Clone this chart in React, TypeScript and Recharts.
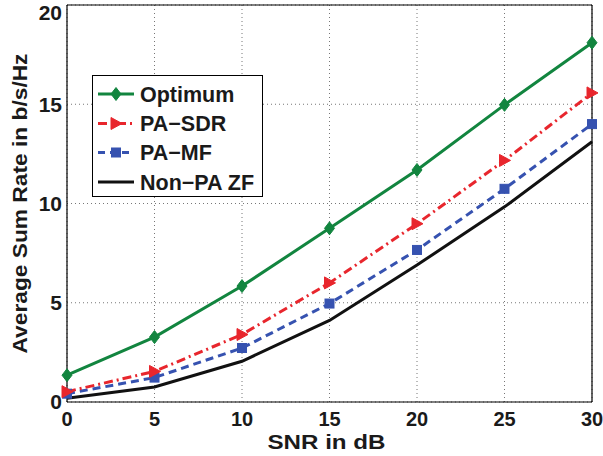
import React from "react";
import {
  LineChart,
  Line,
  XAxis,
  YAxis,
  CartesianGrid,
  Legend,
} from "recharts";

const snr = [0, 5, 10, 15, 20, 25, 30];
const optimum = [1.35, 3.27, 5.84, 8.75, 11.69, 14.97, 18.1];
const paSdr = [0.52, 1.54, 3.4, 6.0, 8.98, 12.17, 15.57];
const paMf = [0.42, 1.23, 2.72, 4.96, 7.66, 10.74, 14.0];
const nonPaZf = [0.19, 0.76, 2.05, 4.11, 6.9, 9.83, 13.11];
const xTicks = [0, 5, 10, 15, 20, 25, 30];
const yTicks = [0, 5, 10, 15, 20];
const seriesNames = ["Optimum", "PA\u2212SDR", "PA\u2212MF", "Non\u2212PA ZF"];

const data = snr.map((x, i) => ({
  x,
  optimum: optimum[i],
  paSdr: paSdr[i],
  paMf: paMf[i],
  nonPaZf: nonPaZf[i],
}));

const GREEN = "#12853f";
const RED = "#e8262d";
const BLUE = "#3652b0";
const BLACK = "#111111";
const FONT = "'Liberation Sans', Arial, Helvetica, sans-serif";

const Diamond = (props: any) => {
  const { cx, cy } = props;
  if (cx == null || cy == null) return <g />;
  return (
    <path
      d={`M${cx},${cy - 6.5} L${cx + 5},${cy} L${cx},${cy + 6.5} L${cx - 5},${cy} Z`}
      fill={GREEN}
      stroke={GREEN}
      strokeWidth={1}
    />
  );
};

const TriRight = (props: any) => {
  const { cx, cy } = props;
  if (cx == null || cy == null) return <g />;
  return (
    <path
      d={`M${cx + 6},${cy} L${cx - 5},${cy - 6} L${cx - 5},${cy + 6} Z`}
      fill={RED}
      stroke={RED}
      strokeWidth={1}
    />
  );
};

const Square = (props: any) => {
  const { cx, cy } = props;
  if (cx == null || cy == null) return <g />;
  return (
    <rect
      x={cx - 4.5}
      y={cy - 4.5}
      width={9}
      height={9}
      fill={BLUE}
      stroke={BLUE}
      strokeWidth={1}
    />
  );
};

const LegendBox = () => {
  const rows = [
    { color: GREEN, dash: undefined, marker: "diamond" },
    { color: RED, dash: "9 4 2 4", marker: "tri" },
    { color: BLUE, dash: "7 5", marker: "square" },
    { color: BLACK, dash: undefined, marker: "none" },
  ];
  const W = 171;
  const H = 122;
  const rowY = [19, 48.5, 77.5, 107];
  return (
    <svg width={W} height={H} style={{ display: "block" }}>
      <rect x={0.5} y={0.5} width={W - 1} height={H - 1} fill="#ffffff" stroke="#000" strokeWidth={1} />
      {rows.map((r, i) => {
        const y = rowY[i];
        const mx = 24;
        return (
          <g key={i}>
            <line x1={6} x2={42} y1={y} y2={y} stroke={r.color} strokeWidth={3} strokeDasharray={r.dash} />
            {r.marker === "diamond" && <Diamond cx={mx} cy={y} />}
            {r.marker === "tri" && <TriRight cx={mx} cy={y} />}
            {r.marker === "square" && <Square cx={mx} cy={y} />}
            <text
              x={48}
              y={y}
              dy="0.36em"
              fontFamily={FONT}
              fontWeight="bold"
              fontSize={21.5}
              fill="#1a1a1a"
            >
              {seriesNames[i]}
            </text>
          </g>
        );
      })}
    </svg>
  );
};

export default function App() {
  return (
    <div style={{ position: "absolute", left: 0, top: 0, width: 603, height: 456, background: "#fff" }}>
      <LineChart
        width={603}
        height={456}
        data={data}
        margin={{ top: 5, right: 11, bottom: 0, left: 0 }}
      >
        <CartesianGrid stroke="#777" strokeDasharray="1 3" strokeWidth={1} />
        <XAxis
          dataKey="x"
          type="number"
          domain={[0, 30]}
          ticks={xTicks}
          height={54}
          tickLine={false}
          tickSize={0}
          tickMargin={10}
          axisLine={{ stroke: "#000", strokeWidth: 1.2 }}
          tick={{ fill: "#1a1a1a", fontSize: 20, fontWeight: "bold", fontFamily: FONT }}
          label={(p: any) => {
            const vb = p.viewBox;
            return (
              <text
                x={vb.x + vb.width / 2 - 3}
                y={448.5}
                textAnchor="middle"
                fontFamily={FONT}
                fontWeight="bold"
                fontSize={20}
                textLength={118}
                lengthAdjust="spacingAndGlyphs"
                fill="#1a1a1a"
              >
                SNR in dB
              </text>
            );
          }}
        />
        <XAxis
          xAxisId="bm"
          dataKey="x"
          type="number"
          domain={[0, 30]}
          ticks={xTicks}
          orientation="bottom"
          mirror
          tick={false}
          tickSize={6}
          axisLine={false}
          tickLine={{ stroke: "#000" }}
        />
        <XAxis
          xAxisId="top"
          dataKey="x"
          type="number"
          domain={[0, 30]}
          ticks={xTicks}
          orientation="top"
          mirror
          tick={false}
          tickSize={6}
          axisLine={{ stroke: "#000", strokeWidth: 1.2 }}
          tickLine={{ stroke: "#000" }}
        />
        <YAxis
          type="number"
          domain={[0, 20]}
          ticks={yTicks}
          width={67}
          tickLine={false}
          tickSize={0}
          tickMargin={5}
          axisLine={{ stroke: "#000", strokeWidth: 1.2 }}
          tick={{ fill: "#1a1a1a", fontSize: 21, fontWeight: "bold", fontFamily: FONT }}
          label={(p: any) => {
            const vb = p.viewBox;
            const cy = vb.y + vb.height / 2;
            return (
              <text
                x={0}
                y={0}
                transform={`translate(26.5, ${cy}) rotate(-90)`}
                textAnchor="middle"
                fontFamily={FONT}
                fontWeight="bold"
                fontSize={19.5}
                textLength={300}
                lengthAdjust="spacingAndGlyphs"
                fill="#1a1a1a"
              >
                Average Sum Rate in b/s/Hz
              </text>
            );
          }}
        />
        <YAxis
          yAxisId="lm"
          type="number"
          domain={[0, 20]}
          ticks={yTicks}
          orientation="left"
          mirror
          tick={false}
          tickSize={6}
          axisLine={false}
          tickLine={{ stroke: "#000" }}
        />
        <YAxis
          yAxisId="right"
          type="number"
          domain={[0, 20]}
          ticks={yTicks}
          orientation="right"
          mirror
          tick={false}
          tickSize={6}
          axisLine={{ stroke: "#000", strokeWidth: 1.2 }}
          tickLine={{ stroke: "#000" }}
        />
        <Legend
          layout="horizontal"
          verticalAlign="middle"
          align="center"
          content={() => <LegendBox />}
          wrapperStyle={{ left: 92, top: 75, width: 171, height: 122, margin: 0 }}
        />
        <Line
          dataKey="nonPaZf"
          name={seriesNames[3]}
          stroke={BLACK}
          strokeWidth={3}
          dot={false}
          isAnimationActive={false}
        />
        <Line
          dataKey="paMf"
          name={seriesNames[2]}
          stroke={BLUE}
          strokeWidth={3}
          strokeDasharray="8 5"
          dot={<Square />}
          isAnimationActive={false}
        />
        <Line
          dataKey="paSdr"
          name={seriesNames[1]}
          stroke={RED}
          strokeWidth={3}
          strokeDasharray="9 4 2 4"
          dot={<TriRight />}
          isAnimationActive={false}
        />
        <Line
          dataKey="optimum"
          name={seriesNames[0]}
          stroke={GREEN}
          strokeWidth={3}
          dot={<Diamond />}
          isAnimationActive={false}
        />
      </LineChart>
    </div>
  );
}
